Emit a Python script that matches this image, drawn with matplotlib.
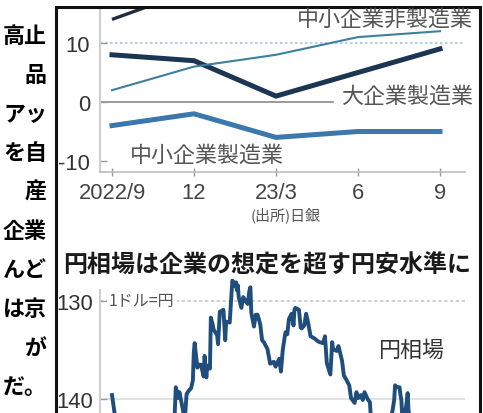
import numpy as np
import matplotlib
matplotlib.use("Agg")
import matplotlib.pyplot as plt
import matplotlib.dates as mdates
from matplotlib.patches import Rectangle

W, H, DPI = 483, 414, 100

# ---------------- data: 日銀短観 業況判断DI ----------------
quarters = ["2022/9", "12", "23/3", "6", "9"]
large_mfg = [8, 7, 1, 5, 9]            # 大企業製造業
small_mfg = [-4, -2, -6, -5, -5]       # 中小企業製造業
small_nonmfg = [2, 6, 8, 11, 12]       # 中小企業非製造業
large_nonmfg = [14, 19, 20, 23, 27]    # 大企業非製造業 (mostly above crop)
di_ticks = [10, 0, -10]

# ---------------- data: 円相場 (1ドル=円) ----------------
fx_dates = [
    "2022-09-01", "2022-09-06", "2022-09-07", "2022-09-09", "2022-09-13", "2022-09-15",
    "2022-09-20", "2022-09-22", "2022-09-27", "2022-09-30", "2022-10-04", "2022-10-07",
    "2022-10-12", "2022-10-14", "2022-10-19", "2022-10-20", "2022-10-21", "2022-10-24",
    "2022-10-26", "2022-10-28", "2022-11-01", "2022-11-04", "2022-11-08", "2022-11-10",
    "2022-11-11", "2022-11-14", "2022-11-15", "2022-11-17", "2022-11-21", "2022-11-23",
    "2022-11-25", "2022-11-28", "2022-11-30", "2022-12-01", "2022-12-02", "2022-12-05",
    "2022-12-07", "2022-12-09", "2022-12-12", "2022-12-13", "2022-12-15", "2022-12-16",
    "2022-12-19", "2022-12-20", "2022-12-22", "2022-12-23", "2022-12-27", "2022-12-28",
    "2022-12-30", "2023-01-03", "2023-01-05", "2023-01-06", "2023-01-10", "2023-01-12",
    "2023-01-13", "2023-01-16", "2023-01-17", "2023-01-18", "2023-01-19", "2023-01-20",
    "2023-01-23", "2023-01-25", "2023-01-27", "2023-01-30", "2023-02-01", "2023-02-02",
    "2023-02-03", "2023-02-06", "2023-02-08", "2023-02-10", "2023-02-13", "2023-02-15",
    "2023-02-17", "2023-02-21", "2023-02-24", "2023-02-28", "2023-03-02", "2023-03-06",
    "2023-03-08", "2023-03-10", "2023-03-13", "2023-03-15", "2023-03-17", "2023-03-20",
    "2023-03-22", "2023-03-23", "2023-03-24", "2023-03-28", "2023-03-30", "2023-03-31",
    "2023-04-03", "2023-04-05", "2023-04-07", "2023-04-10", "2023-04-12", "2023-04-14",
    "2023-04-18", "2023-04-20", "2023-04-24", "2023-04-26", "2023-04-28", "2023-05-02",
    "2023-05-04", "2023-05-05", "2023-05-09", "2023-05-11", "2023-05-15", "2023-05-17",
    "2023-05-19", "2023-05-23", "2023-05-25", "2023-05-29", "2023-05-31", "2023-06-02",
    "2023-06-05", "2023-06-07", "2023-06-09", "2023-06-13", "2023-06-15", "2023-06-16",
    "2023-06-20", "2023-06-22", "2023-06-26", "2023-06-28", "2023-06-30", "2023-07-03",
    "2023-07-06", "2023-07-07", "2023-07-10", "2023-07-12", "2023-07-13", "2023-07-14",
    "2023-07-18", "2023-07-19", "2023-07-20", "2023-07-21", "2023-07-24", "2023-07-26",
    "2023-07-27", "2023-07-28", "2023-08-01", "2023-08-03", "2023-08-07", "2023-08-09",
    "2023-08-11", "2023-08-15", "2023-08-17", "2023-08-21", "2023-08-23", "2023-08-25",
    "2023-08-29", "2023-08-31", "2023-09-04", "2023-09-06", "2023-09-08", "2023-09-11",
    "2023-09-13", "2023-09-15", "2023-09-19", "2023-09-21", "2023-09-25", "2023-09-27",
    "2023-09-29",
]
fx_values = [
    139.6, 142.8, 144.0, 142.6, 144.6, 143.5,
    143.7, 142.4, 144.7, 144.7, 144.1, 145.3,
    146.9, 148.7, 149.9, 150.2, 147.7, 149.0,
    146.4, 147.5, 148.2, 146.6, 145.6, 141.0,
    138.8, 139.9, 139.3, 140.2, 142.1, 139.5,
    139.2, 138.9, 138.1, 135.3, 134.3, 136.8,
    136.5, 136.5, 137.7, 135.6, 137.8, 136.6,
    136.9, 131.7, 132.4, 132.9, 133.5, 134.4,
    131.1, 130.9, 134.0, 132.1, 132.2, 129.2,
    127.9, 128.5, 128.1, 128.9, 128.4, 129.6,
    130.7, 129.6, 129.9, 130.3, 128.9, 128.6,
    131.2, 132.6, 131.4, 131.4, 132.4, 134.0,
    134.2, 134.9, 136.4, 136.2, 136.7, 135.9,
    137.2, 135.0, 133.2, 133.4, 131.8, 131.3,
    132.5, 130.9, 130.7, 130.9, 132.7, 132.8,
    132.5, 131.3, 132.1, 133.6, 133.7, 133.8,
    134.1, 134.2, 134.3, 133.6, 136.3, 137.5,
    134.2, 134.9, 135.1, 134.6, 136.1, 137.6,
    137.9, 138.6, 139.9, 140.4, 139.3, 139.9,
    139.6, 140.1, 139.3, 140.1, 140.3, 141.8,
    141.7, 143.1, 143.5, 144.3, 144.3, 144.7,
    144.1, 142.1, 141.3, 140.1, 138.6, 138.8,
    138.8, 139.6, 140.1, 141.8, 141.5, 140.3,
    139.4, 141.2, 143.3, 143.5, 142.5, 143.7,
    144.9, 145.6, 145.8, 146.2, 144.8, 146.4,
    146.1, 145.5, 146.5, 147.7, 147.8, 146.6,
    147.4, 147.8, 147.9, 147.6, 148.9, 149.6,
    149.3,
]
fx_ticks = [130, 140]

# ---------------- text (left column fragment) ----------------
side_lines = ["高止", "品", "アッ", "を自", "産", "企業", "んど", "は京", "が", "だ。"]

JP = ["Noto Sans CJK JP", "DejaVu Sans"]
NUM = ["Liberation Sans Narrow", "Liberation Sans", "DejaVu Sans"]
GRAY = "#555555"


def fx_(x):
    return x / W


def fy_(y):
    return 1 - y / H


def pt(px):
    return px * 72 / DPI


fig = plt.figure(figsize=(W / DPI, H / DPI), dpi=DPI)
fig.patch.set_facecolor("white")

# frame around the graphic
fig.patches.append(Rectangle((fx_(56), fy_(430)), fx_(480) - fx_(56), fy_(8) - fy_(430),
                             transform=fig.transFigure, fill=False, lw=2.2,
                             edgecolor="#111111", clip_on=False))

# left column text
y0, dy = 36, 39.1
for i, s in enumerate(side_lines):
    fig.text(fx_(47), fy_(y0 + i * dy), s, ha="right", va="center",
             fontsize=pt(22), fontweight="bold", family=JP, color="#000000")

# ---------------- top chart ----------------
axL, axR = 100, 465
ax1 = fig.add_axes([fx_(axL), fy_(173), fx_(axR) - fx_(axL), fy_(8) - fy_(173)])
px_per_q = 82.0
ax1.set_xlim(-(112 - axL) / px_per_q, 4 + (axR - 440) / px_per_q)
py = 5.9
ax1.set_ylim(-(173 - 103) / py, (103 - 8) / py)
x = np.arange(len(quarters))

ax1.plot([ax1.get_xlim()[0], (333 - 112) / px_per_q], [0, 0], color="#8a8a8a", lw=1.2, zorder=1)
ax1.plot([ax1.get_xlim()[0], (463 - 112) / px_per_q], [10, 10], color="#b4d0e6", lw=1.5,
         ls=(0, (1.2, 1.2)), zorder=1)

ax1.plot(x, large_nonmfg, color="#1f2d3d", lw=2.4, solid_capstyle="butt", zorder=3)
ax1.plot(x, small_mfg, color="#3a78ad", lw=3.6, solid_joinstyle="miter", zorder=3)
ax1.plot(x, large_mfg, color="#1b3552", lw=3.6, solid_joinstyle="miter", zorder=4)
ax1.plot(x, small_nonmfg, color="#3d7f9f", lw=1.5, zorder=5)

for sp in ["top", "right"]:
    ax1.spines[sp].set_visible(False)
ax1.spines["left"].set_color("#cfcfcf")
ax1.spines["left"].set_linewidth(1.5)
ax1.spines["bottom"].set_color("#bdbdbd")
ax1.spines["bottom"].set_linewidth(1.2)
ax1.set_xticks(x)
ax1.set_xticklabels(quarters)
ax1.set_yticks(di_ticks)
ax1.set_yticklabels([str(v) for v in di_ticks])
ax1.tick_params(axis="y", direction="in", length=5, width=1, color="#999999", pad=7,
                labelsize=pt(22), labelcolor="#333333")
ax1.tick_params(axis="x", direction="inout", length=6, width=1, color="#999999", pad=4,
                labelsize=pt(22), labelcolor="#444444")
for lab in ax1.get_xticklabels() + ax1.get_yticklabels():
    lab.set_family(NUM)
ax1.patch.set_alpha(0)

fig.text(fx_(473), fy_(20), "中小企業非製造業", ha="right", va="center", fontsize=pt(22),
         family=JP, color=GRAY)
fig.text(fx_(473), fy_(97), "大企業製造業", ha="right", va="center", fontsize=pt(22),
         family=JP, color=GRAY)
fig.text(fx_(130), fy_(156), "中小企業製造業", ha="left", va="center", fontsize=pt(22),
         family=JP, color=GRAY)
fig.text(fx_(286), fy_(215), "(出所)日銀", ha="center", va="center", fontsize=pt(15),
         family=JP, color=GRAY)

# ---------------- bottom chart ----------------
fig.text(fx_(63), fy_(265), "円相場は企業の想定を超す円安水準に", ha="left", va="center",
         fontsize=pt(24), fontweight="bold", family=JP, color="#1a1a1a")

ax2 = fig.add_axes([fx_(axL), 0, fx_(axR) - fx_(axL), fy_(280)])
d = mdates.date2num(np.array(fx_dates, dtype="datetime64[D]"))
v = np.array(fx_values)
ppd = (440 - 112) / 365.0
ref0 = mdates.date2num(np.datetime64("2022-09-01"))
ref1 = mdates.date2num(np.datetime64("2023-09-01"))
ax2.set_xlim(ref0 - (112 - axL) / ppd, ref1 + (axR - 440) / ppd)
pyy = 9.8
ax2.set_ylim(140 + (414 - 400) / pyy, 130 - (302 - 280) / pyy)

ax2.axhline(130, color="#c8c8c8", lw=1.2, ls=(0, (2, 1.5)), zorder=1)
ax2.axhline(140, color="#dddddd", lw=1.2, zorder=1)
ax2.plot(d, v, color="#1f4d7c", lw=2.8, solid_joinstyle="round", zorder=3)

for sp in ["top", "right", "bottom"]:
    ax2.spines[sp].set_visible(False)
ax2.spines["left"].set_color("#cfcfcf")
ax2.spines["left"].set_linewidth(1.5)
ax2.spines["left"].set_bounds(128.9, 142)
ax2.set_xticks([])
ax2.set_yticks(fx_ticks)
ax2.set_yticklabels([str(t) for t in fx_ticks])
ax2.tick_params(axis="y", direction="in", length=5, width=1, color="#999999", pad=5,
                labelsize=pt(22), labelcolor="#333333")
for lab in ax2.get_yticklabels():
    lab.set_family(NUM)
ax2.patch.set_alpha(0)

ax2.text(fx_(112) - fx_(axL), 130, "1ドル=円", transform=ax2.get_yaxis_transform(),
         ha="left", va="center", fontsize=pt(16), family=JP, color=GRAY,
         bbox=dict(facecolor="white", edgecolor="none", pad=1.5), zorder=2)
fig.text(fx_(378), fy_(351), "円相場", ha="left", va="center", fontsize=pt(22),
         family=JP, color="#333333")

fig.savefig("out.png", dpi=DPI)
